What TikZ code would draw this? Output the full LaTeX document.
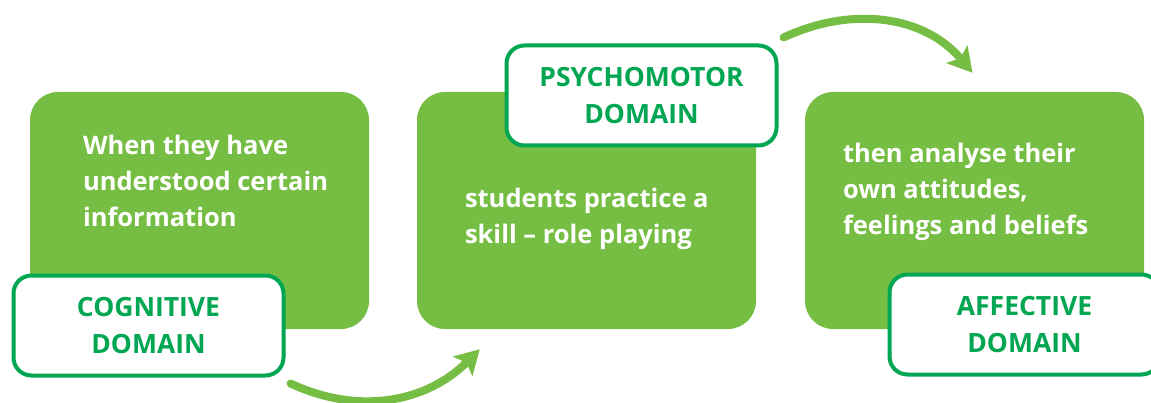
\documentclass[tikz,border=0pt]{standalone}
\usepackage{fontspec}
\setmainfont{Open Sans}
\usetikzlibrary{positioning, arrows.meta}
\definecolor{leaf}{HTML}{76BE43}
\definecolor{forest}{HTML}{00A651}

\begin{document}
\begin{tikzpicture}[x=1pt, y=1pt, >={Stealth[length=24pt, width=27pt, inset=5pt]}]
\tikzstyle{domainbox} = [fill=leaf, rounded corners=28pt, minimum width=339pt, minimum height=237pt, inner sep=0pt]
\tikzstyle{domaintext} = [text=white, font=\fontsize{25.5}{36}\selectfont\bfseries, align=left, inner sep=0pt]
\tikzstyle{tag} = [draw=forest, line width=4pt, fill=white, rounded corners=18pt, minimum width=270pt, minimum height=100pt, text=forest, font=\fontsize{26.5}{37}\selectfont\bfseries, align=center]
\tikzstyle{flow} = [draw=leaf, line width=8pt, line cap=round, ->]

\useasboundingbox (0,0) rectangle (1151,402);
\clip (0,0) rectangle (1151,402);

%draw domains
\node [domainbox, name = learn] at (199.5,191.5) {};
\node [domainbox, name = practise, right of = learn, node distance = 387pt] {};
\node [domainbox, name = reflect, right of = practise, node distance = 388pt] {};

%%texts inside
\node (learntext)[domaintext, below right = 43pt and 53pt of learn.north west] {When they have\\understood certain\\information};
\node (practisetext)[domaintext, below right = 96pt and 48pt of practise.north west] {students practice a\\skill -- role playing};
\node (reflecttext)[domaintext, below right = 51pt and 38pt of reflect.north west] {then analyse their\\own attitudes,\\feelings and beliefs};

%%labels
\node (cognitive)[tag, below of = learn, node distance = 115pt, xshift = -51pt] {COGNITIVE\\DOMAIN};
\node (psychomotor)[tag, above of = practise, node distance = 115pt, xshift = 55pt] {PSYCHOMOTOR\\DOMAIN};
\node (affective)[tag, below of = reflect, node distance = 114pt, xshift = 50pt] {AFFECTIVE\\DOMAIN};

%arrows
\coordinate[name = cogout, below right = 6pt and 5pt of cognitive.south east];
\coordinate[name = pracin, below right = 20pt and 63pt of practise.south west];
\coordinate[name = psyout, above right = 6pt and 5pt of psychomotor.north east];
\coordinate[name = refin, above left = 19pt and 2pt of reflect.north];
\draw [flow] (cogout) to[out=-25, in=-135] (pracin);
\draw [flow] (psyout) to[out=25, in=130] (refin);

\end{tikzpicture}
\end{document}
